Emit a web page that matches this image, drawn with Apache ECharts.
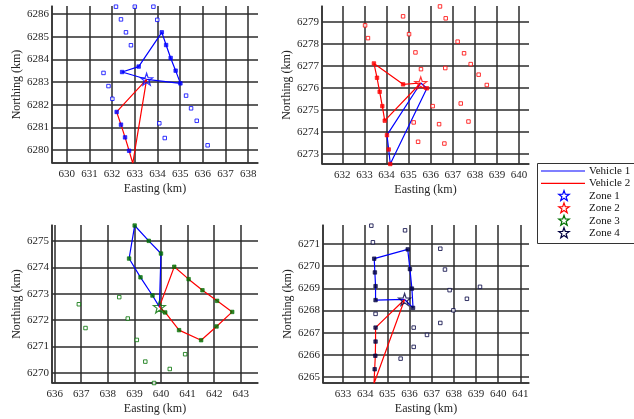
<!DOCTYPE html>
<html>
<head>
<meta charset="utf-8">
<style>
  html, body { margin: 0; padding: 0; background: #fff; }
  #chart { width: 634px; height: 419px; }
</style>
<script src="https://cdn.jsdelivr.net/npm/echarts@6/dist/echarts.min.js"></script>
</head>
<body>
<div id="chart"></div>
<script>
  // zone colours / names
  var zoneNames = ['Zone 1', 'Zone 2', 'Zone 3', 'Zone 4']
  var vehicleNames = ['Vehicle 1', 'Vehicle 2']

  // axis extents (km) per subplot
  var xRanges = [[629.35, 638.43], [631.08, 640.45], [635.9, 643.65], [632.1, 641.39]]
  var yRanges = [[6279.43, 6286.35], [6272.55, 6279.73], [6269.62, 6275.6], [6264.73, 6271.86]]

  // depots
  var depots = [[633.52, 6283.12], [635.55, 6276.23], [639.94, 6272.50], [635.78, 6268.50]]

  // customers not on a route
  var others1 = [[632.17, 6286.32], [633.0, 6286.32], [633.82, 6286.32], [632.39, 6285.76], [633.99, 6285.74],
    [632.61, 6285.19], [632.83, 6284.62], [631.62, 6283.40], [631.84, 6282.82], [632.01, 6282.26],
    [635.26, 6282.40], [635.48, 6281.84], [635.73, 6281.29], [634.08, 6281.18], [634.32, 6280.53], [636.21, 6280.21]]
  var others2 = [[636.42, 6279.71], [634.75, 6279.26], [636.68, 6279.17], [633.03, 6278.85], [633.16, 6278.27],
    [635.02, 6278.45], [637.22, 6278.11], [635.31, 6277.62], [637.51, 6277.58], [635.56, 6276.86],
    [636.66, 6276.91], [637.81, 6277.09], [638.17, 6276.61], [638.54, 6276.14], [636.09, 6275.18],
    [637.36, 6275.30], [636.38, 6274.36], [637.71, 6274.48], [635.43, 6273.56], [636.62, 6273.48], [635.23, 6274.44]]
  var others3 = [[636.91, 6272.60], [637.16, 6271.70], [638.43, 6272.87], [638.75, 6272.06], [639.09, 6271.25],
    [639.41, 6270.43], [639.74, 6269.62], [640.33, 6270.15], [640.91, 6270.71]]
  var others4 = [[634.28, 6271.83], [635.80, 6271.62], [634.35, 6271.08], [637.39, 6270.79], [637.60, 6269.85],
    [637.81, 6268.92], [639.18, 6269.07], [638.59, 6268.53], [637.98, 6268.01], [636.19, 6267.23],
    [637.39, 6267.44], [636.79, 6266.90], [636.19, 6266.36], [635.60, 6265.83], [634.47, 6267.85]]

  // vehicle 1 routes (without depot)
  var routeA1 = [[632.44, 6283.44], [633.17, 6283.68], [634.19, 6285.19], [634.38, 6284.63], [634.58, 6284.06], [634.80, 6283.50], [635.01, 6282.94]]
  var routeA2 = [[635.83, 6275.99], [634.17, 6272.55], [634.10, 6273.21], [634.02, 6273.86]]
  var routeA3 = [[639.68, 6272.93], [639.23, 6273.62], [638.80, 6274.33], [639.01, 6275.58], [639.54, 6275.00], [640.00, 6274.52]]
  var routeA4 = [[634.47, 6268.47], [634.47, 6269.10], [634.44, 6269.72], [634.41, 6270.34], [635.92, 6270.76], [636.02, 6269.87], [636.11, 6268.99], [636.16, 6268.12]]

  // vehicle 2 routes (without depot)
  var routeB1 = [[632.20, 6281.68], [632.39, 6281.12], [632.57, 6280.56], [632.75, 6279.97], [632.91, 6279.41]]
  var routeB2 = [[634.75, 6276.17], [633.43, 6277.12], [633.57, 6276.47], [633.69, 6275.83], [633.81, 6275.18], [633.92, 6274.52]]
  var routeB3 = [[640.50, 6274.02], [641.04, 6273.55], [641.56, 6273.13], [642.11, 6272.73], [642.68, 6272.31], [642.09, 6271.76], [641.51, 6271.24], [640.68, 6271.62], [640.16, 6272.29]]
  var routeB4 = [[634.47, 6267.23], [634.47, 6266.60], [634.46, 6265.96], [634.43, 6265.35], [634.40, 6264.71]]

  var others = [others1, others2, others3, others4]
  var routesA = [routeA1, routeA2, routeA3, routeA4]
  var routesB = [routeB1, routeB2, routeB3, routeB4]

  var zoneColors = ['#0000ff', '#ff0000', '#007000', '#000040']
  var vehicleColors = ['#0000ff', '#ff0000']
  var font = 'Liberation Serif'

  // pentagram outline
  function starPoints(cx, cy, r) {
    var pts = []
    for (var k = 0; k < 10; k++) {
      var rr = k % 2 === 0 ? r : r * 0.4
      var a = -Math.PI / 2 + k * Math.PI / 5
      pts.push([cx + rr * Math.cos(a), cy + rr * Math.sin(a)])
    }
    return pts
  }
  var starPath = 'path://' + starPoints(10, 10, 10).map(function (p, i) {
    return (i === 0 ? 'M' : 'L') + p[0].toFixed(3) + ',' + p[1].toFixed(3)
  }).join(' ') + ' Z'

  var grids = [
    { left: 52, top: 6, width: 206, height: 157 },
    { left: 322, top: 6, width: 207, height: 158 },
    { left: 52, top: 225, width: 206, height: 158 },
    { left: 323, top: 225, width: 206, height: 158 }
  ]

  function intLabel(v) {
    return Math.abs(v - Math.round(v)) < 1e-6 ? String(Math.round(v)) : ''
  }

  function axisCommon(range) {
    return {
      type: 'value',
      min: range[0],
      max: range[1],
      minInterval: 1,
      maxInterval: 1,
      splitNumber: 9,
      axisLine: { show: true, onZero: false, lineStyle: { color: '#333', width: 1.5 } },
      axisTick: { show: false },
      axisLabel: { formatter: intLabel, color: '#262626', fontFamily: font, fontSize: 11 },
      splitLine: { show: true, showMaxLine: false, lineStyle: { color: '#2b2b2b', width: 1.5 } },
      nameLocation: 'middle',
      nameTextStyle: { color: '#262626', fontFamily: font, fontSize: 12 }
    }
  }

  var xAxes = []
  var yAxes = []
  var series = []
  for (var i = 0; i < 4; i++) {
    var xa = axisCommon(xRanges[i])
    xa.gridIndex = i
    xa.name = 'Easting (km)'
    xa.nameGap = 20
    xa.axisLabel.margin = 6
    xAxes.push(xa)

    var ya = axisCommon(yRanges[i])
    ya.gridIndex = i
    ya.name = 'Northing (km)'
    ya.nameGap = 29
    ya.axisLabel.margin = 3
    yAxes.push(ya)

    var depot = depots[i]
    series.push({
      name: vehicleNames[0], type: 'line', xAxisIndex: i, yAxisIndex: i,
      data: [depot].concat(routesA[i], [depot]),
      symbol: 'none', lineStyle: { color: vehicleColors[0], width: 1.2 }, z: 3
    })
    series.push({
      name: vehicleNames[1], type: 'line', xAxisIndex: i, yAxisIndex: i,
      data: [depot].concat(routesB[i], [depot]),
      symbol: 'none', lineStyle: { color: vehicleColors[1], width: 1.2 }, z: 3
    })
    series.push({
      name: zoneNames[i] + ' customers', type: 'scatter', xAxisIndex: i, yAxisIndex: i,
      data: others[i],
      symbol: 'rect', symbolSize: 3.5,
      itemStyle: { color: '#fff', borderColor: zoneColors[i], borderWidth: 1 }, z: 4
    })
    series.push({
      name: zoneNames[i] + ' visited', type: 'scatter', xAxisIndex: i, yAxisIndex: i,
      data: routesA[i].concat(routesB[i]),
      symbol: 'rect', symbolSize: 3.5,
      itemStyle: { color: zoneColors[i], borderColor: zoneColors[i], borderWidth: 0.8 }, z: 4
    })
    series.push({
      name: zoneNames[i], type: 'scatter', xAxisIndex: i, yAxisIndex: i,
      data: [depot], symbol: starPath, symbolSize: 12,
      itemStyle: { color: 'rgba(0,0,0,0)', borderColor: zoneColors[i], borderWidth: 1.2 }, z: 5
    })
  }

  // legend box
  var legendEls = [{
    type: 'rect', shape: { x: 537.5, y: 163.5, width: 100, height: 80 },
    style: { fill: '#fff', stroke: '#333', lineWidth: 1 }, z: 10
  }]
  vehicleNames.forEach(function (n, k) {
    var y = 171 + k * 12.4
    legendEls.push({ type: 'line', shape: { x1: 541, y1: y, x2: 585, y2: y },
      style: { stroke: vehicleColors[k], lineWidth: 1.2 }, z: 11 })
    legendEls.push({ type: 'text', x: 589, y: y, style: { text: n, fill: '#111', font: '11px "' + font + '"', textVerticalAlign: 'middle' }, z: 11 })
  })
  zoneNames.forEach(function (n, k) {
    var y = 196 + k * 12.4
    legendEls.push({ type: 'polygon', shape: { points: starPoints(564, y, 5.5) },
      style: { fill: 'none', stroke: zoneColors[k], lineWidth: 1.2 }, z: 11 })
    legendEls.push({ type: 'text', x: 589, y: y, style: { text: n, fill: '#111', font: '11px "' + font + '"', textVerticalAlign: 'middle' }, z: 11 })
  })

  var chart = echarts.init(document.getElementById('chart'))
  chart.setOption({
    animation: false,
    backgroundColor: '#fff',
    grid: grids,
    xAxis: xAxes,
    yAxis: yAxes,
    series: series,
    graphic: legendEls
  })
</script>
</body>
</html>
